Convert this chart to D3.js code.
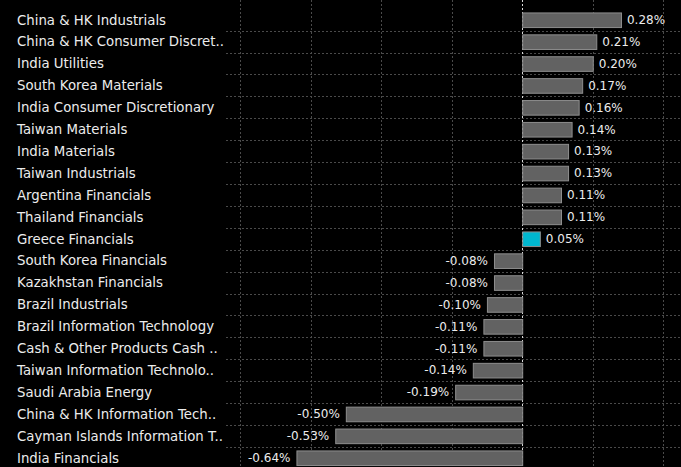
<!DOCTYPE html>
<html>
<head>
<meta charset="utf-8">
<style>
  html, body { margin: 0; padding: 0; background: #000; }
  svg { display: block; }
</style>
</head>
<body>
<svg id="chart"></svg>
<script src="https://cdnjs.cloudflare.com/ajax/libs/d3/7.8.5/d3.min.js"></script>
<script>

  // sectors, top to bottom
  var categories = [
    "China & HK Industrials",
    "China & HK Consumer Discret..",
    "India Utilities",
    "South Korea Materials",
    "India Consumer Discretionary",
    "Taiwan Materials",
    "India Materials",
    "Taiwan Industrials",
    "Argentina Financials",
    "Thailand Financials",
    "Greece Financials",
    "South Korea Financials",
    "Kazakhstan Financials",
    "Brazil Industrials",
    "Brazil Information Technology",
    "Cash & Other Products Cash ..",
    "Taiwan Information Technolo..",
    "Saudi Arabia Energy",
    "China & HK Information Tech..",
    "Cayman Islands Information T..",
    "India Financials"
  ];

  // contribution, %
  var values = [0.28, 0.21, 0.20, 0.17, 0.16, 0.14, 0.13, 0.13, 0.11, 0.11, 0.05,
                -0.08, -0.08, -0.10, -0.11, -0.11, -0.14, -0.19, -0.50, -0.53, -0.64];

  var highlighted = ["Greece Financials"];

  var gridTicks = [-0.8, -0.6, -0.4, -0.2, 0, 0.2, 0.4];

  var width  = 681,
      height = 467;

  var data = categories.map(function(c, i) { return { name: c, value: values[i] }; });

  var fmt = function(v) { return d3.format(".2f")(v).replace("\u2212", "-") + "%"; };

  var svg = d3.select("#chart")
              .attr("width", width)
              .attr("height", height);

  svg.append("rect")
     .attr("width", width).attr("height", height)
     .attr("fill", "#000");

  var x = d3.scaleLinear()
            .domain([-0.8, 0.4])
            .range([240, 663.3]);

  var y = d3.scaleBand()
            .domain(categories)
            .range([8.8, 8.8 + 21 * 21.9])
            .paddingInner(0.333)
            .paddingOuter(0.1665);

  var step = y.step();

  // horizontal grid lines between rows
  svg.append("g").selectAll("line")
     .data(categories.slice(1))
     .enter().append("line")
     .attr("x1", 226).attr("x2", width)
     .attr("y1", function(d) { return Math.round(y(d) - step * 0.1665) + 0.5; })
     .attr("y2", function(d) { return Math.round(y(d) - step * 0.1665) + 0.5; })
     .attr("stroke", "#4a4a4a")
     .attr("stroke-dasharray", "2,2");

  // vertical grid lines
  svg.append("g").selectAll("line")
     .data(gridTicks)
     .enter().append("line")
     .attr("x1", function(d) { return Math.round(x(d)) + 0.5; })
     .attr("x2", function(d) { return Math.round(x(d)) + 0.5; })
     .attr("y1", 0).attr("y2", height)
     .attr("stroke", function(d) { return d === 0 ? "#d8d8d8" : "#4a4a4a"; })
     .attr("stroke-dasharray", "2,2");

  // bars
  svg.append("g").selectAll("rect")
     .data(data)
     .enter().append("rect")
     .attr("x", function(d) { return Math.min(x(0), x(d.value)) + 0.5; })
     .attr("y", function(d) { return y(d.name) + 0.5; })
     .attr("width", function(d) { return Math.abs(x(d.value) - x(0)); })
     .attr("height", y.bandwidth())
     .attr("fill", function(d) { return highlighted.indexOf(d.name) >= 0 ? "#00b7cf" : "#626262"; })
     .attr("stroke", "#8e8e8e")
     .attr("stroke-width", 1);

  // value labels
  svg.append("g").selectAll("text")
     .data(data)
     .enter().append("text")
     .attr("x", function(d) { return d.value >= 0 ? x(d.value) + 6 : x(d.value) - 6; })
     .attr("y", function(d) { return y(d.name) + y.bandwidth() / 2; })
     .attr("dy", "0.36em")
     .attr("text-anchor", function(d) { return d.value >= 0 ? "start" : "end"; })
     .attr("fill", "#ececec")
     .style("font-family", "'DejaVu Sans', sans-serif")
     .style("font-size", "12px")
     .text(function(d) { return fmt(d.value); });

  // category labels
  svg.append("g").selectAll("text")
     .data(data)
     .enter().append("text")
     .attr("x", 17)
     .attr("y", function(d) { return y(d.name) + y.bandwidth() / 2; })
     .attr("dy", "0.36em")
     .attr("fill", "#ececec")
     .style("font-family", "'DejaVu Sans', sans-serif")
     .style("font-size", "13.3px")
     .text(function(d) { return d.name; });

</script>
</body>
</html>
